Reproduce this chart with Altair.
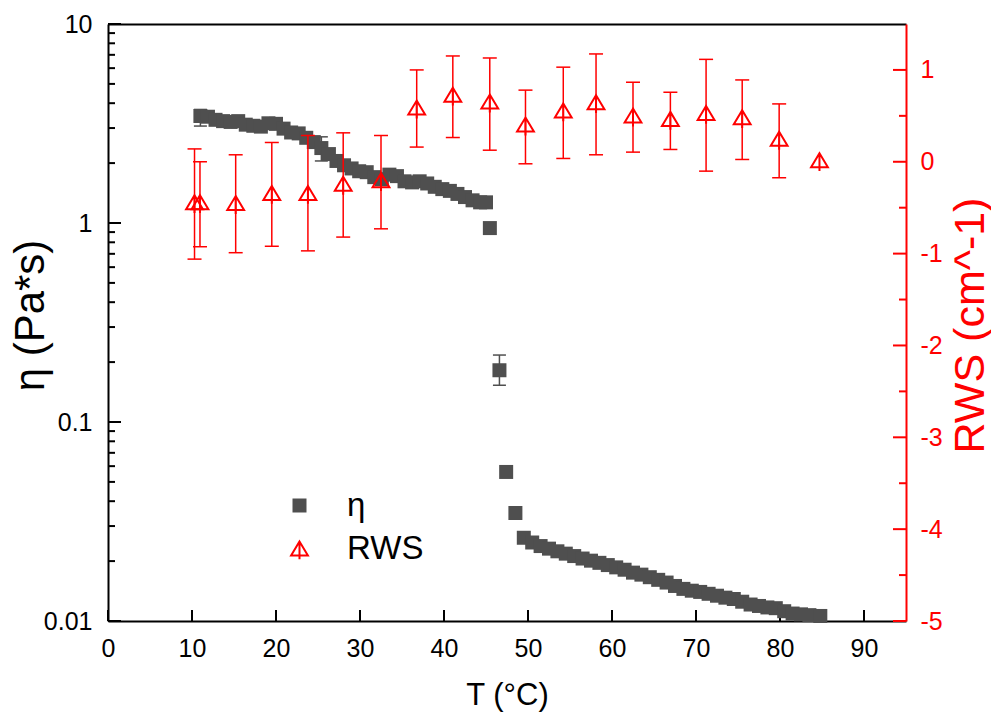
import altair as alt
import pandas as pd

# ---------------- data ----------------
T_ETA = [11.0, 11.9, 12.8, 13.7, 14.6, 15.5, 16.4, 17.3, 18.2, 19.1, 20.0, 20.9,
         21.8, 22.7, 23.6, 24.5, 25.4, 26.3, 27.2, 28.1, 29.0, 29.9, 30.8, 31.7,
         32.6, 33.5, 34.4, 35.3, 36.2, 37.1, 38.0, 38.9, 39.8, 40.7, 41.6, 42.5,
         43.4, 44.3, 45.0, 45.46, 46.6, 47.4, 48.5, 49.5,
         50.5, 51.5, 52.5, 53.5, 54.5, 55.5, 56.5, 57.5, 58.5, 59.5, 60.5, 61.5,
         62.5, 63.5, 64.5, 65.5, 66.5, 67.5, 68.5, 69.5, 70.5, 71.5, 72.5, 73.5,
         74.5, 75.5, 76.5, 77.5, 78.5, 79.5, 80.5, 81.5, 82.5, 83.5, 84.8]
ETA = [3.45, 3.42, 3.30, 3.25, 3.22, 3.25, 3.12, 3.08, 3.05, 3.17, 3.15, 2.98,
       2.85, 2.82, 2.68, 2.55, 2.38, 2.22, 2.05, 1.95, 1.88, 1.82, 1.80, 1.70,
       1.66, 1.75, 1.72, 1.62, 1.60, 1.62, 1.58, 1.52, 1.48, 1.45, 1.40, 1.35,
       1.30, 1.27, 1.27, 0.943, 0.182, 0.0561, 0.0349, 0.0262,
       0.0248, 0.0238, 0.0231, 0.0224, 0.0218, 0.0212, 0.0206, 0.0201, 0.0196,
       0.0191, 0.0186, 0.0181, 0.0175, 0.0171, 0.0166, 0.0161, 0.0156, 0.0150,
       0.0145, 0.0142, 0.0140, 0.0137, 0.0134, 0.0131, 0.0129, 0.0125, 0.0121,
       0.0119, 0.0117, 0.0116, 0.0112, 0.0109, 0.0108, 0.0107, 0.0106]

T_ETA_ERR = [11.0, 25.4, 46.6]
ETA_LO = [3.07, 2.05, 0.153]
ETA_HI = [3.72, 2.71, 0.217]

T_RWS = [10.3, 10.95, 15.2, 19.5, 23.8, 28.0, 32.5, 36.75, 41.05, 45.45,
         49.7, 54.2, 58.1, 62.5, 66.95, 71.2, 75.5, 79.9, 84.7]
RWS = [-0.44, -0.44, -0.45, -0.34, -0.34, -0.24, -0.20, 0.59, 0.73, 0.655,
       0.405, 0.558, 0.648, 0.503, 0.467, 0.532, 0.485, 0.25, 0.017]
T_RWS_ERR = T_RWS[:18]
RWS_LO = [-1.06, -0.925, -0.99, -0.92, -0.97, -0.82, -0.73, 0.16, 0.264, 0.126,
          -0.022, 0.036, 0.076, 0.105, 0.134, -0.102, 0.025, -0.174]
RWS_HI = [0.14, 0.0, 0.076, 0.21, 0.286, 0.315, 0.286, 1.0, 1.152, 1.13,
          0.78, 1.03, 1.174, 0.866, 0.757, 1.115, 0.891, 0.63]

SERIES = ["η", "RWS"]

X_TICKS = [0, 10, 20, 30, 40, 50, 60, 70, 80, 90]
ETA_MAJOR = [0.01, 0.1, 1, 10]
ETA_MINOR = [0.02, 0.03, 0.04, 0.05, 0.06, 0.07, 0.08, 0.09,
             0.2, 0.3, 0.4, 0.5, 0.6, 0.7, 0.8, 0.9,
             2, 3, 4, 5, 6, 7, 8, 9]
RWS_MAJOR = [-5, -4, -3, -2, -1, 0, 1]
RWS_MINOR = [-4.5, -3.5, -2.5, -1.5, -0.5, 0.5]

# ---------------- styling ----------------
W, H = 798, 597
FONT = "Liberation Sans"
GRAY = "#4f4f4f"
RED = "#ff0000"
TRI = "M0,-1L1.2,1L-1.2,1Z M0,-1L0,1.55"

xs = alt.Scale(domain=[0, 95], nice=False, zero=False)
ylog = alt.Scale(type="log", domain=[0.01, 10], nice=False)
yrs = alt.Scale(domain=[-5, 1.5], nice=False, zero=False)

x_bottom = alt.Axis(values=X_TICKS, format="d", ticks=False, labelPadding=15,
                    labelFontSize=25, labelColor="black", domainColor="black",
                    domainWidth=2, title="T (°C)", titleFontSize=31,
                    titleColor="black", titlePadding=19, labelFlush=False,
                    labelOverlap=False, grid=False)
x_top = alt.Axis(orient="top", labels=False, ticks=False, domainColor="black",
                 domainWidth=2, title=None, grid=False)
y_left = alt.Axis(values=ETA_MAJOR, format="~g", ticks=False, labelPadding=16,
                  labelFontSize=25, labelColor="black", domainColor="black",
                  domainWidth=2, title="η (Pa*s)", titleFontSize=42,
                  titleColor="black", titleAngle=270, titleX=-78, titleY=291,
                  titleAlign="center", titleBaseline="middle", grid=False,
                  labelOverlap=False)
y_right = alt.Axis(orient="right", values=RWS_MAJOR, labelExpr="'' + datum.value",
                   ticks=False, labelPadding=14, labelFontSize=25, labelColor=RED,
                   domainColor=RED, domainWidth=2, title="RWS (cm^-1)",
                   titleColor=RED, titleFontSize=43, titleAngle=270, titleX=64,
                   titleY=301, titleAlign="center", titleBaseline="middle",
                   grid=False, labelOverlap=False)

legend = alt.Legend(orient="none", legendX=175, legendY=465, title=None,
                    labelFontSize=33, labelFont=FONT, labelColor="black",
                    symbolSize=196, symbolStrokeWidth=2, labelOffset=31,
                    rowPadding=9, padding=0)

shape_enc = alt.Shape("series:N", scale=alt.Scale(domain=SERIES, range=["square", TRI]), legend=legend)
fill_enc = alt.Fill("series:N", scale=alt.Scale(domain=SERIES, range=[GRAY, "transparent"]), legend=legend)
stroke_enc = alt.Stroke("series:N", scale=alt.Scale(domain=SERIES, range=["transparent", RED]), legend=legend)


def XL(f):
    return alt.X(f, type="quantitative", scale=xs, axis=x_bottom)


def XR(f):
    return alt.X(f, type="quantitative", scale=xs, axis=x_top)


def YL(f):
    return alt.Y(f, type="quantitative", scale=ylog, axis=y_left)


def YR(f):
    return alt.Y(f, type="quantitative", scale=yrs, axis=y_right)


df_eta = pd.DataFrame({"T": T_ETA, "v": ETA, "series": SERIES[0]})
df_eta_err = pd.DataFrame({"T": T_ETA_ERR, "lo": ETA_LO, "hi": ETA_HI})
df_eta_caps = pd.DataFrame({"T": T_ETA_ERR + T_ETA_ERR, "v": ETA_LO + ETA_HI})
df_rws = pd.DataFrame({"T": T_RWS, "v": RWS, "series": SERIES[1]})
df_rws_err = pd.DataFrame({"T": T_RWS_ERR, "lo": RWS_LO, "hi": RWS_HI})
df_rws_caps = pd.DataFrame({"T": T_RWS_ERR + T_RWS_ERR, "v": RWS_LO + RWS_HI})

# ---------------- left (η) group ----------------
xt = alt.Chart(pd.DataFrame({"t": X_TICKS})).mark_rule(color="black", strokeWidth=2).encode(
    x=XL("t"), y=alt.value(H), y2=alt.value(H - 11))
lmaj = alt.Chart(pd.DataFrame({"t": ETA_MAJOR})).mark_rule(color="black", strokeWidth=2).encode(
    y=YL("t"), x=alt.value(0), x2=alt.value(13))
lmin = alt.Chart(pd.DataFrame({"t": ETA_MINOR})).mark_rule(color="black", strokeWidth=2).encode(
    y=YL("t"), x=alt.value(0), x2=alt.value(7))
eta_rule = alt.Chart(df_eta_err).mark_rule(color=GRAY, strokeWidth=1.5).encode(
    x=XL("T"), y=YL("lo"), y2="hi")
eta_caps = alt.Chart(df_eta_caps).mark_tick(orient="horizontal", size=13, thickness=1.5,
                                            color=GRAY, opacity=1).encode(x=XL("T"), y=YL("v"))
eta_pts = alt.Chart(df_eta).mark_point(size=196, opacity=1, strokeWidth=2).encode(
    x=XL("T"), y=YL("v"), shape=shape_enc, fill=fill_enc, stroke=stroke_enc)

left = alt.layer(xt, lmaj, lmin, eta_rule, eta_caps, eta_pts)

# ---------------- right (RWS) group ----------------
rmaj = alt.Chart(pd.DataFrame({"t": RWS_MAJOR})).mark_rule(color=RED, strokeWidth=2).encode(
    y=YR("t"), x=alt.value(W), x2=alt.value(W - 13))
rmin = alt.Chart(pd.DataFrame({"t": RWS_MINOR})).mark_rule(color=RED, strokeWidth=2).encode(
    y=YR("t"), x=alt.value(W), x2=alt.value(W - 7))
rws_rule = alt.Chart(df_rws_err).mark_rule(color=RED, strokeWidth=1.5).encode(
    x=XR("T"), y=YR("lo"), y2="hi")
rws_caps = alt.Chart(df_rws_caps).mark_tick(orient="horizontal", size=14, thickness=1.5,
                                            color=RED, opacity=1).encode(x=XR("T"), y=YR("v"))
rws_pts = alt.Chart(df_rws).mark_point(size=196, opacity=1, strokeWidth=2).encode(
    x=XR("T"), y=YR("v"), shape=shape_enc, fill=fill_enc, stroke=stroke_enc)

right = alt.layer(rws_rule, rws_caps, rws_pts, rmaj, rmin)

chart = (
    alt.layer(left, right)
    .resolve_scale(y="independent")
    .resolve_axis(x="independent")
    .properties(width=W, height=H, background="white",
                padding={"left": 108, "top": 24, "right": 85, "bottom": 94},
                autosize=alt.AutoSizeParams(type="none"))
    .configure_axis(labelFont=FONT, titleFont=FONT, titleFontWeight="normal", grid=False)
    .configure_legend(labelFont=FONT)
    .configure_view(stroke=None)
)

chart.save("out.html", embed_options={"renderer": "svg", "actions": False})
